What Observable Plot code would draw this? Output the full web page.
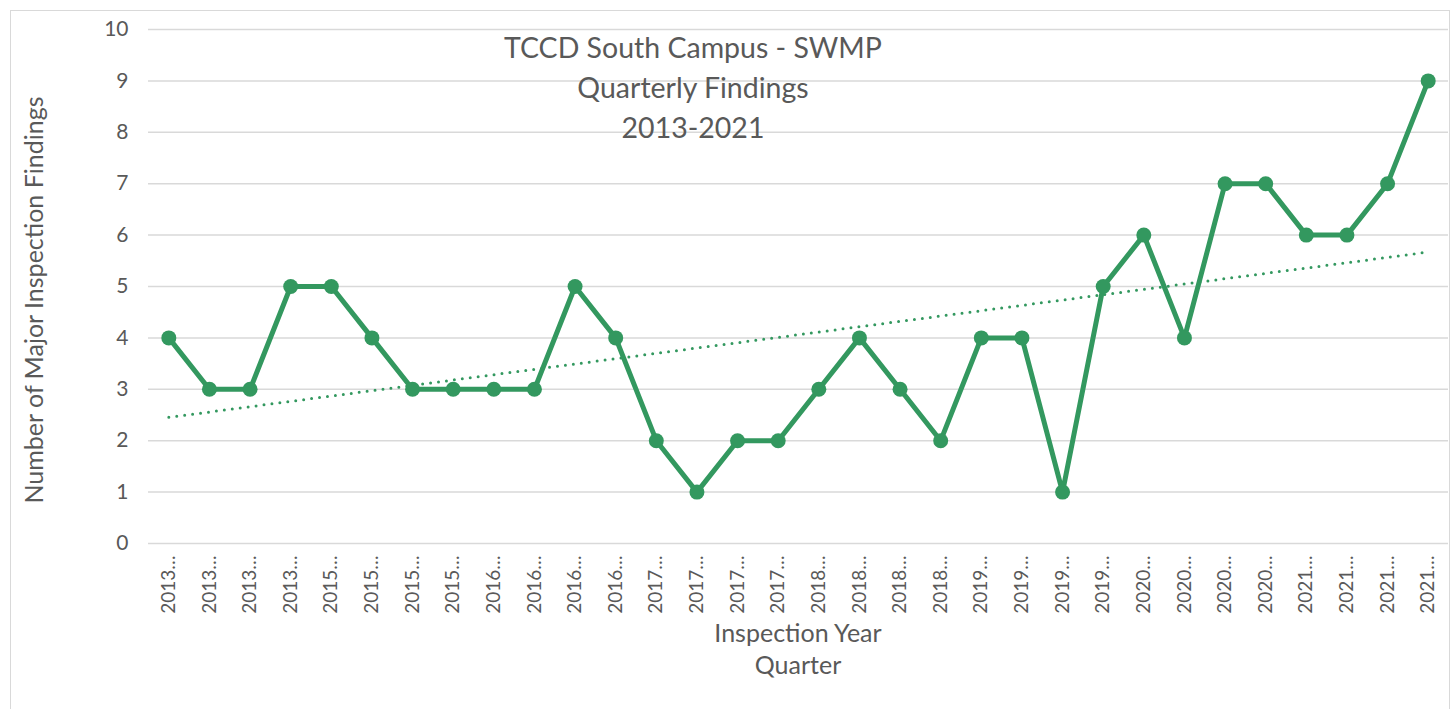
<!DOCTYPE html>
<html><head><meta charset="utf-8">
<script src="https://cdn.jsdelivr.net/npm/d3@7"></script>
<script src="https://cdn.jsdelivr.net/npm/@observablehq/plot@0.6"></script>
<style>
body{margin:0;background:#fff;font-family:Lato,sans-serif;}
#wrap{position:relative;width:1454px;height:709px;overflow:hidden}
#frame{position:absolute;left:10px;top:10px;width:1440px;height:720px;border:1px solid #d9d9d9;box-sizing:border-box}
#chart{position:absolute;left:0;top:0}
.t{position:absolute;color:#595959;text-align:center;white-space:nowrap}
</style></head><body>
<div id="wrap">
<div id="frame"></div>
<div id="chart"></div>
<div class="t" style="left:443px;top:27px;width:500px;font-size:28.5px;line-height:40px">TCCD South Campus - SWMP<br>Quarterly Findings<br>2013-2021</div>
<div class="t" style="left:598px;top:616px;width:400px;font-size:25px;line-height:32px">Inspection Year<br>Quarter</div>
<div class="t" style="left:-217px;top:286px;width:500px;font-size:25px;line-height:28px;transform:rotate(-90deg)">Number of Major Inspection Findings</div>
</div>
<script>
const quarterLabels = ["2013…","2013…","2013…","2013…","2015…","2015…","2015…","2015…",
  "2016…","2016…","2016…","2016…","2017…","2017…","2017…","2017…",
  "2018…","2018…","2018…","2018…","2019…","2019…","2019…","2019…",
  "2020…","2020…","2020…","2020…","2021…","2021…","2021…","2021…"];
const findings = [4,3,3,5,5,4,3,3,3,3,5,4,2,1,2,2,3,4,3,2,4,4,1,5,6,4,7,7,6,6,7,9];
const yTicks = [0,1,2,3,4,5,6,7,8,9,10];

const data = findings.map((v, i) => ({i, v}));
// least-squares trendline (Excel linear trendline)
const n = data.length;
const mx = d3.mean(data, d => d.i), my = d3.mean(data, d => d.v);
const slope = d3.sum(data, d => (d.i - mx) * (d.v - my)) / d3.sum(data, d => (d.i - mx) ** 2);
const icpt = my - slope * mx;
const trend = [0, n - 1].map(i => ({i, v: icpt + slope * i}));

const green = "#33985f";
const chart = Plot.plot({
  width: 1454, height: 709,
  marginLeft: 148, marginRight: 6, marginTop: 29, marginBottom: 166,
  style: {fontFamily: "Lato, sans-serif", color: "#595959", background: "transparent"},
  x: {type: "linear", domain: [-0.5, n - 0.5]},
  y: {domain: [0, 10]},
  marks: [
    Plot.gridY(yTicks, {stroke: "#d9d9d9", strokeOpacity: 1, strokeWidth: 1.5}),
    Plot.axisY(yTicks, {tickSize: 0, tickPadding: 20, fontSize: 21, label: null, tickFormat: d => String(d)}),
    Plot.axisX(d3.range(n), {tickSize: 0, tickPadding: 12, fontSize: 19, tickRotate: -90,
      tickFormat: i => quarterLabels[i], label: null}),
    Plot.line(trend, {x: "i", y: "v", stroke: green, strokeWidth: 3, strokeDasharray: "0 8", strokeLinecap: "round"}),
    Plot.line(data, {x: "i", y: "v", stroke: green, strokeWidth: 5, strokeLinejoin: "round"}),
    Plot.dot(data, {x: "i", y: "v", r: 7.5, fill: green, stroke: "none"})
  ]
});
document.getElementById("chart").appendChild(chart);
</script>
</body></html>
